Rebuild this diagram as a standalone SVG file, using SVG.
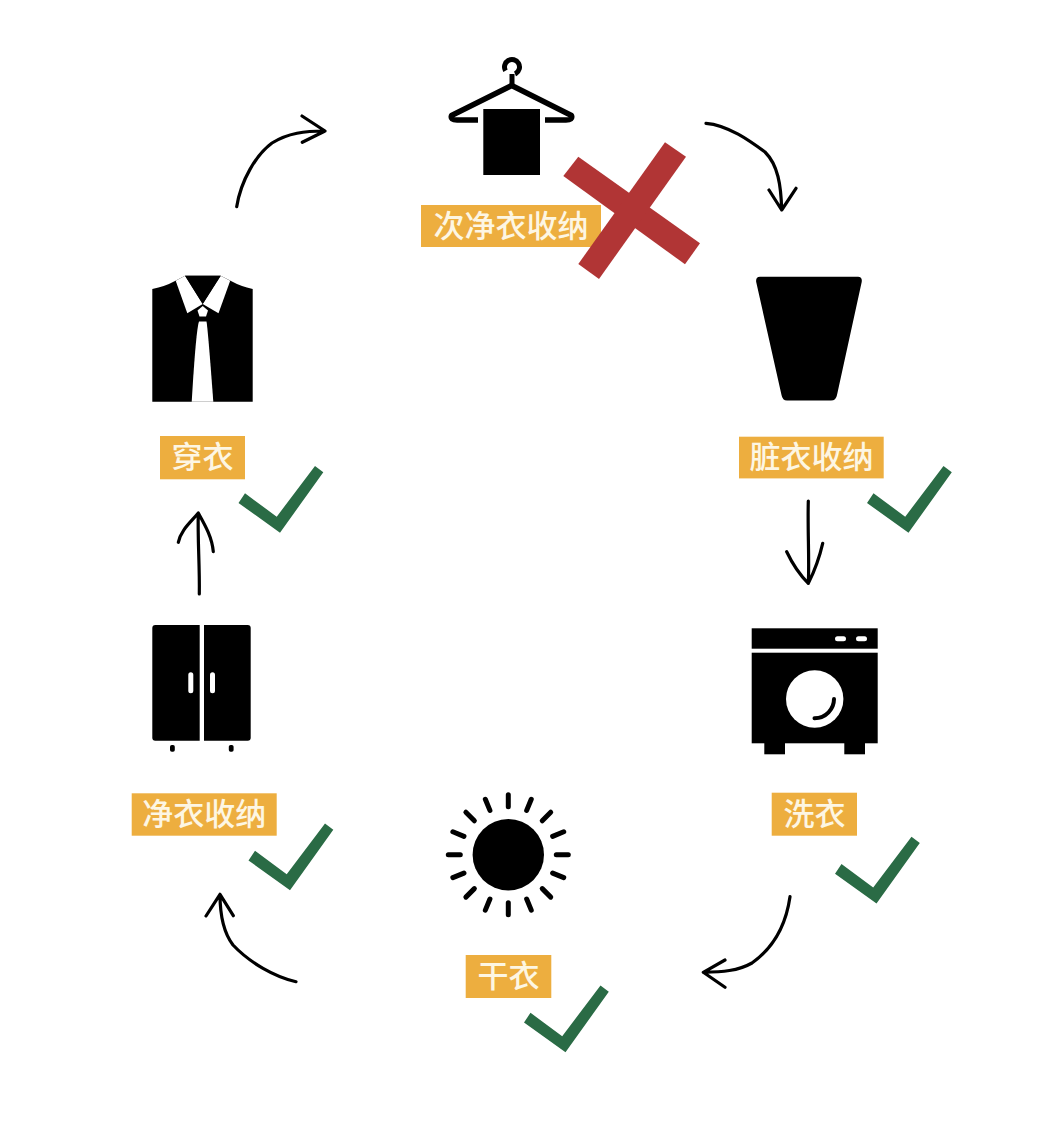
<svg xmlns="http://www.w3.org/2000/svg" xmlns:xlink="http://www.w3.org/1999/xlink" width="1062" height="1129" viewBox="0 0 1062 1129">
<style>
.lb{fill:#edae3f}
.tx{fill:#fdf6e3;font-family:"Noto Sans CJK SC","Noto Sans CJK JP",sans-serif;font-size:31px;font-weight:500;text-anchor:middle}
.ar{fill:none;stroke:#000;stroke-width:3.2;stroke-linecap:round;stroke-linejoin:round}
.ck{fill:#2a6b45}
.ray{stroke:#000;stroke-width:5;stroke-linecap:round}
</style>
<defs>
<polygon id="check" class="ck" points="245,493.3 238.5,503 280,532.7 323.3,472.3 315,466 276.7,516.7"/>
</defs>
<rect width="1062" height="1129" fill="#fff"/>
<g id="connectors">
<path class="ar" d="M236.7 206.7C241 180 256 155 272 143C288 133 305 131 325 131M302 116L325 131L302.3 142.3"/>
<path class="ar" d="M706 123.3C728 125 750 141 765 152C778 165 781 185 781.7 210M769 190L781.7 210L796 188.3"/>
<path class="ar" d="M808.3 501C807.500 530 809.500 560 808.300 583.300M786.700 551.700C793 565 800 575 808.300 583.300C815 570 820 555 822.700 543.300"/>
<path class="ar" d="M790 896.700C786 925 773 948 752 963C738 971 722 972 703.300 972.300M725 960L703.300 972.300L725 987.300"/>
<path class="ar" d="M296 981.700C275 977 250 963 233 945C223 932 220 915 220 894.300M206 916L220 894.300L233.300 915.700"/>
<path class="ar" d="M199.300 594C199.800 565 197.500 540 198.300 513C190 523 181 530 178.300 542.300M198.300 513C205 525 212 537 213.300 551.700"/>
</g>
<g id="node-hanger">
<circle cx="512" cy="67" r="7.500" fill="none" stroke="#000" stroke-width="5" stroke-dasharray="36 12" transform="rotate(150 512 67)"/>
<path d="M512 74V85" stroke="#000" stroke-width="5" fill="none"/>
<path d="M478 120H457Q450 120 451.500 115.500L511.700 85.500L571.500 115.500Q573 120 566 120H545" fill="none" stroke="#000" stroke-width="5.500" stroke-linejoin="round"/>
<rect x="483.300" y="109" width="56.700" height="66"/>
<rect class="lb" x="421" y="205" width="180" height="42"/>
<text class="tx" x="511" y="237">次净衣收纳</text>
</g>
<g id="cross">
<polygon fill="#b13535" points="578.300,156.700 563.300,176 685,264.300 700,243.300"/>
<polygon fill="#b13535" points="665,142.300 686,156.700 599,279 578.300,264"/>
</g>
<g id="node-hamper">
<path d="M760 276.700H858Q862.500 276.700 861.700 282L837 395Q836 400.500 831 400.500H787Q782.500 400.500 781.500 395L756.200 282Q755.500 276.700 760 276.700Z"/>
<rect class="lb" x="739" y="436.700" width="144.700" height="41.700"/>
<text class="tx" x="811.500" y="468">脏衣收纳</text>
<use xlink:href="#check" href="#check" transform="translate(628.500 0)"/>
</g>
<g id="node-washer">
<rect x="751.700" y="628.300" width="126" height="20.400"/>
<rect x="835" y="636.200" width="11" height="5" rx="2.500" fill="#fff"/>
<rect x="856" y="636.200" width="11" height="5" rx="2.500" fill="#fff"/>
<rect x="751.700" y="652.700" width="126" height="90.600"/>
<rect x="764.300" y="743" width="20.700" height="11.300"/>
<rect x="844.300" y="743" width="20.700" height="11.300"/>
<circle cx="814.700" cy="699" r="28.700" fill="#fff"/>
<path d="M814.500 718.300C826 718 834 709 834 699" fill="none" stroke="#000" stroke-width="4" stroke-linecap="round"/>
<rect class="lb" x="771.700" y="792.700" width="85.300" height="43"/>
<text class="tx" x="814.500" y="824.500">洗衣</text>
<use xlink:href="#check" href="#check" transform="translate(596.500 370.700)"/>
</g>
<g id="node-sun">
<circle cx="508.300" cy="854.700" r="35.700"/>
<g transform="translate(508.300 854.700)">
<line class="ray" x1="0" y1="-48" x2="0" y2="-60"/>
<line class="ray" x1="0" y1="-48" x2="0" y2="-60" transform="rotate(22.500)"/>
<line class="ray" x1="0" y1="-48" x2="0" y2="-60" transform="rotate(45)"/>
<line class="ray" x1="0" y1="-48" x2="0" y2="-60" transform="rotate(67.500)"/>
<line class="ray" x1="0" y1="-48" x2="0" y2="-60" transform="rotate(90)"/>
<line class="ray" x1="0" y1="-48" x2="0" y2="-60" transform="rotate(112.500)"/>
<line class="ray" x1="0" y1="-48" x2="0" y2="-60" transform="rotate(135)"/>
<line class="ray" x1="0" y1="-48" x2="0" y2="-60" transform="rotate(157.500)"/>
<line class="ray" x1="0" y1="-48" x2="0" y2="-60" transform="rotate(180)"/>
<line class="ray" x1="0" y1="-48" x2="0" y2="-60" transform="rotate(202.500)"/>
<line class="ray" x1="0" y1="-48" x2="0" y2="-60" transform="rotate(225)"/>
<line class="ray" x1="0" y1="-48" x2="0" y2="-60" transform="rotate(247.500)"/>
<line class="ray" x1="0" y1="-48" x2="0" y2="-60" transform="rotate(270)"/>
<line class="ray" x1="0" y1="-48" x2="0" y2="-60" transform="rotate(292.500)"/>
<line class="ray" x1="0" y1="-48" x2="0" y2="-60" transform="rotate(315)"/>
<line class="ray" x1="0" y1="-48" x2="0" y2="-60" transform="rotate(337.500)"/>
</g>
<rect class="lb" x="465.700" y="955" width="85.600" height="43"/>
<text class="tx" x="508.500" y="986.500">干衣</text>
<use xlink:href="#check" href="#check" transform="translate(285.500 519.500)"/>
</g>
<g id="node-wardrobe">
<path d="M155.300 625H199.700V740.700H155.300Q152.300 740.700 152.300 737.700V628Q152.300 625 155.300 625Z"/>
<path d="M204 625H247.700Q250.700 625 250.700 628V737.700Q250.700 740.700 247.700 740.700H204Z"/>
<rect x="188.300" y="672.300" width="5" height="21" rx="2.500" fill="#fff"/>
<rect x="210" y="672.300" width="5" height="21" rx="2.500" fill="#fff"/>
<rect x="170" y="745" width="4.800" height="6.700" rx="1.800"/>
<rect x="228.800" y="745" width="4.800" height="6.700" rx="1.800"/>
<rect class="lb" x="131.700" y="793.300" width="145" height="42.400"/>
<text class="tx" x="204.200" y="825">净衣收纳</text>
<use xlink:href="#check" href="#check" transform="translate(10 357.500)"/>
</g>
<g id="node-shirt">
<path d="M152.300 289Q165 286.500 175 281L185 275.700H220.700L231 281Q241 286.500 252.700 289V401.700H152.300Z"/>
<polygon fill="#fff" points="175.700,280.700 185,275.700 202.700,304 187.300,313.300"/>
<polygon fill="#fff" points="230.200,280.700 220.700,275.700 202.700,304 218.500,313.300"/>
<polygon fill="#fff" points="202.700,306 208,310.500 206,316.500 199.500,316.500 197.500,310.500"/>
<polygon fill="#000" points="185,275.700 220.700,275.700 202.700,304"/>
<path d="M199 321.500H206.500Q208 330 213.300 401.700H191.700Q196 330 199 321.500Z" fill="#fff"/>
<rect class="lb" x="160" y="436" width="85" height="43.300"/>
<text class="tx" x="202.500" y="468">穿衣</text>
<use xlink:href="#check" href="#check"/>
</g>
</svg>
